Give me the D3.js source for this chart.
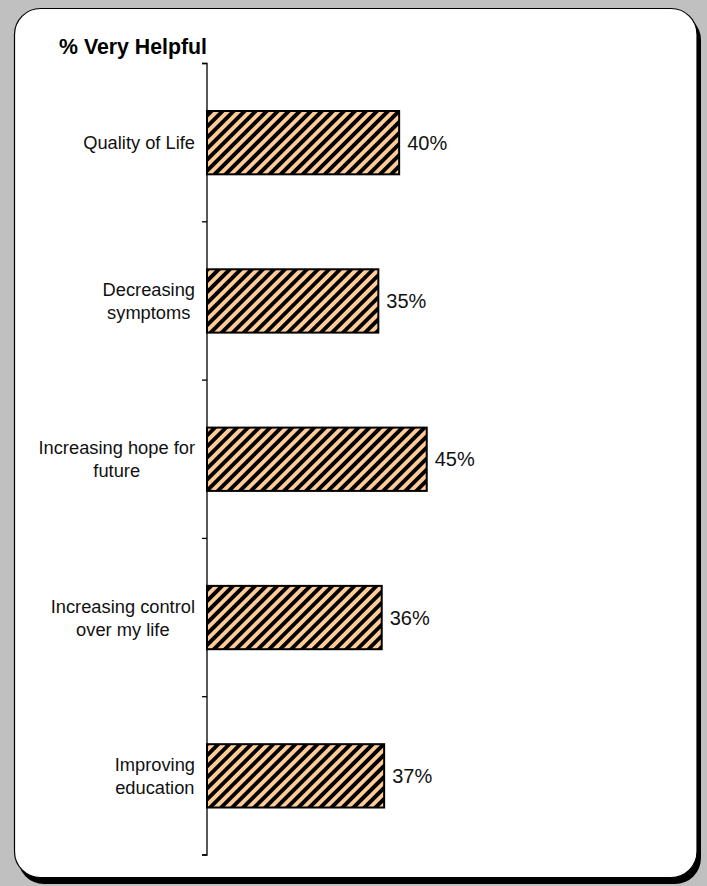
<!DOCTYPE html>
<html><head><meta charset="utf-8">
<script src="https://cdn.jsdelivr.net/npm/d3@7"></script>
<style>html,body{margin:0;padding:0;background:#c0c0c0;}svg{display:block;}</style>
</head><body>
<script>
const categories = [["Quality of Life"], ["Decreasing", "symptoms"], ["Increasing hope for", "future"], ["Increasing control", "over my life"], ["Improving", "education"]];
const values = [39.7, 35.4, 45.4, 36.1, 36.6];
const valueLabels = ["40%", "35%", "45%", "36%", "37%"];
const title = "% Very Helpful";

const W = 707, H = 886;
const FONT = "'Liberation Sans', Arial, sans-serif";
const svg = d3.select("body").append("svg").attr("width", W).attr("height", H);
const defs = svg.append("defs");
const pat = defs.append("pattern").attr("id", "hatch").attr("patternUnits", "userSpaceOnUse")
  .attr("width", 7.8).attr("height", 7.8).attr("patternTransform", "rotate(45)");
pat.append("rect").attr("width", 7.8).attr("height", 7.8).attr("fill", "#ffcc99");
pat.append("rect").attr("width", 3.9).attr("height", 7.8).attr("fill", "#000");

svg.append("rect").attr("x", 18).attr("y", 14).attr("width", 683).attr("height", 870).attr("rx", 26).attr("fill", "#000");
svg.append("rect").attr("x", 14.5).attr("y", 8.5).attr("width", 682.5).attr("height", 869).attr("rx", 26)
  .attr("fill", "#fff").attr("stroke", "#000").attr("stroke-width", 1.2);

const x0 = 207, yTop = 63.5, yBot = 855;
const x = d3.scaleLinear().domain([0, 100]).range([x0, x0 + 484]);
const y = d3.scaleBand().domain(d3.range(categories.length)).range([yTop, yBot]).padding(0);

const yAxis = d3.axisLeft(y).tickSize(0).tickFormat("");
const ag = svg.append("g").attr("transform", `translate(${x0},0)`).call(yAxis);
ag.select(".domain").attr("stroke", "#000").attr("stroke-width", 1.3).attr("d", `M-5,${yTop}H0V${yBot}H-5`);
svg.append("g").selectAll("line").data(d3.range(categories.length + 1)).join("line")
  .attr("x1", x0 - 5).attr("x2", x0)
  .attr("y1", i => i < categories.length ? y(i) : yBot)
  .attr("y2", i => i < categories.length ? y(i) : yBot)
  .attr("stroke", "#000").attr("stroke-width", 1.3);

const barH = y.bandwidth() * 0.4;
svg.append("g").selectAll("rect").data(values).join("rect")
  .attr("x", x(0)).attr("width", d => x(d) - x(0))
  .attr("y", (d, i) => y(i) + y.bandwidth() / 2 - barH / 2).attr("height", barH)
  .attr("fill", "url(#hatch)").attr("stroke", "#000").attr("stroke-width", 2);

svg.append("g").selectAll("text").data(values).join("text")
  .attr("x", d => x(d) + 8).attr("y", (d, i) => y(i) + y.bandwidth() / 2)
  .attr("dy", "0.36em").attr("font-family", FONT)
  .attr("font-size", 20).attr("fill", "#111").text((d, i) => valueLabels[i]);

const lh = 23;
const lg = svg.append("g").attr("font-family", FONT).attr("font-size", 18.3).attr("fill", "#111");
categories.forEach((lines, i) => {
  const cy = y(i) + y.bandwidth() / 2;
  const t = lg.append("text").attr("text-anchor", "middle");
  lines.forEach((l, j) => {
    t.append("tspan").attr("x", 0).attr("y", cy + (j - (lines.length - 1) / 2) * lh).attr("dy", "0.36em").text(l);
  });
  let mw = 0;
  t.selectAll("tspan").each(function () { mw = Math.max(mw, this.getComputedTextLength()); });
  t.selectAll("tspan").attr("x", 195 - mw / 2);
});

svg.append("text").attr("x", x0).attr("y", 54).attr("text-anchor", "end")
  .attr("font-family", FONT).attr("font-weight", "bold")
  .attr("font-size", 21.3).attr("fill", "#000").text(title);
</script>
</body></html>
